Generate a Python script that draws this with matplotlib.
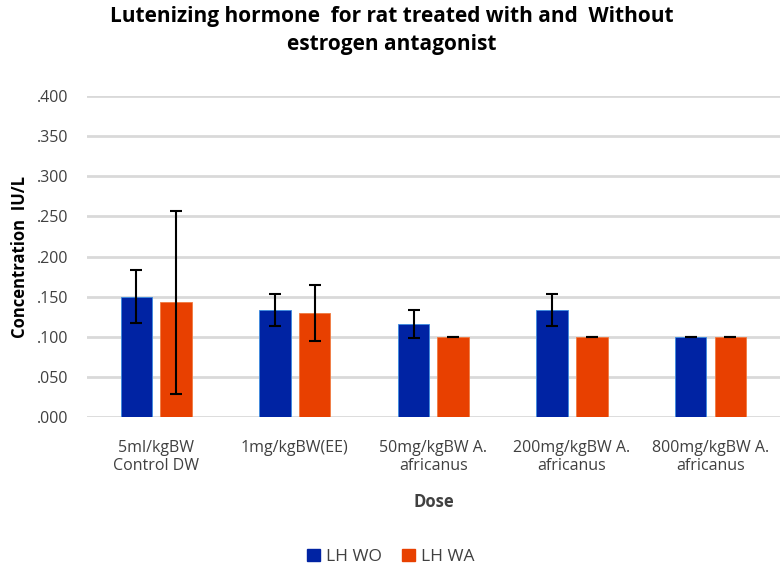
import numpy as np
import matplotlib
matplotlib.use("Agg")
import matplotlib.pyplot as plt
from matplotlib.ticker import FuncFormatter, MultipleLocator
from matplotlib.patches import Patch

categories = ["5ml/kgBW\nControl DW", "1mg/kgBW(EE)", "50mg/kgBW A.\nafricanus",
              "200mg/kgBW A.\nafricanus", "800mg/kgBW A.\nafricanus"]
lh_wo = [0.150, 0.133, 0.116, 0.133, 0.100]
lh_wo_err = [0.033, 0.020, 0.017, 0.020, 0.0]
lh_wa = [0.143, 0.130, 0.100, 0.100, 0.100]
lh_wa_err = [0.114, 0.035, 0.0, 0.0, 0.0]
series_names = ["LH WO", "LH WA"]

plt.rcParams['font.family'] = ['Open Sans', 'DejaVu Sans']

fig = plt.figure(figsize=(7.83, 5.67), dpi=100)
ax = fig.add_axes([0.111, 0.264, 0.885, 0.567])

blue = "#0023A3"
orange = "#E84000"
x = np.arange(len(categories))
w = 0.227
off = 0.143
ax.bar(x - off, lh_wo, w, color=blue, edgecolor="#3C8CE0", linewidth=0.6, zorder=3)
ax.bar(x + off, lh_wa, w, color=orange, edgecolor="#F07A40", linewidth=0.6, zorder=3)
ax.errorbar(x - off, lh_wo, yerr=lh_wo_err, fmt="none", ecolor="black",
            elinewidth=1.5, capsize=4, capthick=1.5, zorder=4)
ax.errorbar(x + off, lh_wa, yerr=lh_wa_err, fmt="none", ecolor="black",
            elinewidth=1.5, capsize=4, capthick=1.5, zorder=4)

ax.set_xlim(-0.5, len(categories) - 0.5)
ax.set_ylim(0, 0.4)
ax.yaxis.set_major_locator(MultipleLocator(0.05))
ax.yaxis.set_major_formatter(FuncFormatter(lambda v, p: f"{v:.3f}"[1:] if v < 1 else f"{v:.3f}"))
ax.grid(axis="y", color="#D9D9D9", linewidth=2, zorder=0)
for s in ax.spines.values():
    s.set_visible(False)
ax.tick_params(axis="both", length=0, colors="#404040", labelsize=11.5)
ax.tick_params(axis="y", pad=13)
ax.tick_params(axis="x", pad=16)
ax.set_xticks(x)
ax.set_xticklabels(categories, linespacing=1.2)
for t in ax.get_xticklabels() + ax.get_yticklabels():
    t.set_color("#404040")

ax.set_xlabel("Dose", fontsize=12, fontweight="bold", color="#404040", labelpad=14)
ax.set_ylabel("Concentration  IU/L", fontsize=12, fontweight="bold", color="black", labelpad=6)

fig.text(0.5, 0.99, "Lutenizing hormone  for rat treated with and  Without\nestrogen antagonist",
         ha="center", va="top", fontsize=15, fontweight="bold", color="black", linespacing=1.45)

handles = [Patch(color=blue, label=series_names[0]), Patch(color=orange, label=series_names[1])]
fig.legend(handles=handles, loc="center", bbox_to_anchor=(0.499, 0.018), ncol=2, frameon=False,
           fontsize=12.5, handlelength=0.75, handleheight=0.75, handletextpad=0.3, columnspacing=1.2,
           labelcolor="#404040")

fig.savefig("out.png", dpi=100)
